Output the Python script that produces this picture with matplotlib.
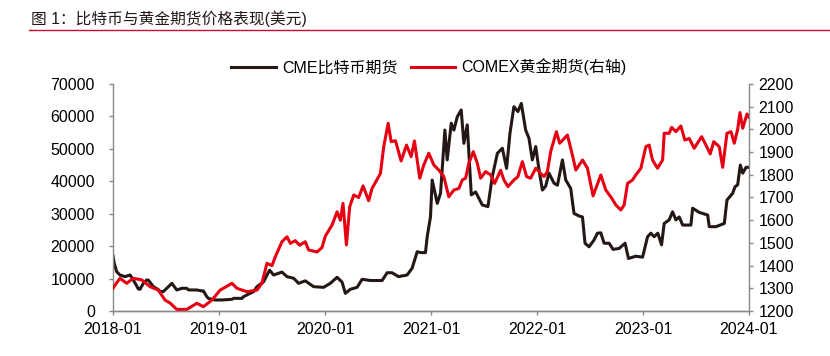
import numpy as np
import matplotlib
matplotlib.use('Agg')
import matplotlib.pyplot as plt
from matplotlib.lines import Line2D

plt.rcParams['font.family'] = ['Liberation Sans', 'Noto Sans CJK SC', 'DejaVu Sans']

# CME bitcoin futures (USD), x in decimal years
btc_t = [2018.000, 2018.012, 2018.035, 2018.050, 2018.066, 2018.113, 2018.161, 2018.192, 2018.239, 2018.255,
         2018.286, 2018.318, 2018.334, 2018.381, 2018.428, 2018.444, 2018.475, 2018.491, 2018.555, 2018.602,
         2018.649, 2018.696, 2018.712, 2018.791, 2018.838, 2018.853, 2018.885, 2018.900, 2018.933, 2018.964,
         2019.027, 2019.122, 2019.137, 2019.216, 2019.231, 2019.278, 2019.326, 2019.358, 2019.420, 2019.477,
         2019.515, 2019.594, 2019.641, 2019.704, 2019.751, 2019.814, 2019.893, 2019.987, 2020.050, 2020.114,
         2020.161, 2020.192, 2020.239, 2020.303, 2020.350, 2020.428, 2020.539, 2020.586, 2020.633, 2020.693,
         2020.775, 2020.822, 2020.870, 2020.901, 2020.948, 2020.964, 2020.995, 2021.011, 2021.027, 2021.059,
         2021.090, 2021.131, 2021.153, 2021.191, 2021.216, 2021.248, 2021.285, 2021.310, 2021.342, 2021.380,
         2021.421, 2021.484, 2021.537, 2021.578, 2021.626, 2021.673, 2021.713, 2021.745, 2021.782, 2021.820,
         2021.852, 2021.893, 2021.924, 2021.956, 2021.988, 2022.019, 2022.051, 2022.082, 2022.113, 2022.161,
         2022.193, 2022.240, 2022.271, 2022.318, 2022.349, 2022.397, 2022.429, 2022.453, 2022.491, 2022.538,
         2022.570, 2022.602, 2022.633, 2022.680, 2022.718, 2022.775, 2022.831, 2022.863, 2022.932, 2022.996,
         2023.043, 2023.074, 2023.105, 2023.140, 2023.175, 2023.200, 2023.247, 2023.279, 2023.310, 2023.342,
         2023.374, 2023.452, 2023.468, 2023.531, 2023.610, 2023.625, 2023.688, 2023.767, 2023.792, 2023.846,
         2023.868, 2023.893, 2023.918, 2023.941, 2023.972, 2024.000]
btc_v = [17000, 14700, 12100, 11600, 11100, 10600, 11100, 9560, 6800, 6700,
         8540, 9560, 9500, 7500, 6600, 5950, 6000, 6480, 8540, 6480,
         7000, 7000, 6500, 6480, 6200, 6200, 4400, 3900, 3600, 3400,
         3400, 3600, 3900, 3900, 4400, 5200, 5950, 7500, 9000, 12600,
         11100, 12000, 10600, 10100, 8540, 9300, 7500, 7300, 8540, 10400,
         8900, 5450, 6700, 7300, 9780, 9400, 9400, 11800, 11800, 10600,
         11100, 13200, 18300, 18000, 18000, 22900, 29000, 40400, 38000, 33200,
         36300, 55800, 46600, 57900, 55800, 59900, 62000, 51700, 57400, 35800,
         36700, 32700, 32200, 41400, 48600, 50200, 44000, 54800, 63000, 61500,
         64000, 55800, 53300, 46600, 50700, 43500, 37300, 38500, 42500, 39400,
         38800, 46600, 40400, 37800, 30100, 29300, 29000, 20900, 19800, 21900,
         24000, 24100, 20900, 20900, 19000, 19300, 20900, 16200, 16900, 16600,
         22900, 24000, 22900, 24000, 20400, 27000, 28100, 30600, 28100, 29000,
         26500, 26500, 31700, 30400, 29600, 26000, 26000, 27000, 34200, 36300,
         38300, 38900, 45000, 42500, 44300, 44300]

# COMEX gold futures (USD/oz), right axis
gold_t = [2018.000, 2018.028, 2018.066, 2018.129, 2018.192, 2018.271, 2018.350, 2018.428, 2018.491, 2018.539,
          2018.602, 2018.696, 2018.791, 2018.853, 2018.933, 2019.011, 2019.122, 2019.169, 2019.263, 2019.358,
          2019.405, 2019.452, 2019.500, 2019.531, 2019.594, 2019.641, 2019.673, 2019.720, 2019.760, 2019.814,
          2019.845, 2019.925, 2019.972, 2020.003, 2020.067, 2020.114, 2020.145, 2020.170, 2020.202, 2020.233,
          2020.271, 2020.318, 2020.359, 2020.412, 2020.444, 2020.523, 2020.554, 2020.596, 2020.624, 2020.665,
          2020.718, 2020.769, 2020.813, 2020.844, 2020.894, 2020.932, 2020.979, 2021.027, 2021.074, 2021.121,
          2021.168, 2021.216, 2021.263, 2021.295, 2021.326, 2021.357, 2021.399, 2021.437, 2021.468, 2021.515,
          2021.562, 2021.600, 2021.657, 2021.688, 2021.726, 2021.782, 2021.820, 2021.862, 2021.902, 2021.940,
          2021.988, 2022.035, 2022.066, 2022.098, 2022.129, 2022.183, 2022.214, 2022.243, 2022.287, 2022.334,
          2022.366, 2022.429, 2022.476, 2022.529, 2022.561, 2022.602, 2022.649, 2022.706, 2022.744, 2022.791,
          2022.822, 2022.854, 2022.901, 2022.932, 2022.980, 2023.027, 2023.058, 2023.090, 2023.137, 2023.185,
          2023.200, 2023.247, 2023.270, 2023.310, 2023.357, 2023.395, 2023.436, 2023.483, 2023.553, 2023.594,
          2023.634, 2023.667, 2023.719, 2023.752, 2023.792, 2023.830, 2023.861, 2023.893, 2023.915, 2023.941,
          2023.981, 2024.000]
gold_v = [1300, 1320, 1344, 1322, 1344, 1337, 1307, 1292, 1248, 1235,
          1207, 1207, 1234, 1219, 1248, 1292, 1322, 1300, 1285, 1292,
          1322, 1410, 1400, 1439, 1505, 1527, 1498, 1510, 1490, 1505,
          1469, 1460, 1480, 1530, 1579, 1637, 1600, 1674, 1491, 1659,
          1711, 1700, 1751, 1686, 1740, 1806, 1924, 2027, 1946, 1950,
          1861, 1931, 1880, 1949, 1785, 1843, 1895, 1843, 1821, 1792,
          1703, 1733, 1740, 1777, 1785, 1851, 1902, 1851, 1785, 1814,
          1800, 1762, 1820, 1777, 1748, 1777, 1792, 1858, 1792, 1785,
          1829, 1806, 1792, 1814, 1902, 1990, 1939, 1953, 1975, 1887,
          1821, 1865, 1829, 1707, 1748, 1799, 1733, 1696, 1667, 1645,
          1667, 1762, 1777, 1799, 1829, 1924, 1931, 1865, 1829, 1865,
          1983, 1983, 2009, 1990, 2015, 1953, 1960, 1917, 1968, 1931,
          1892, 1946, 1924, 1833, 1983, 1990, 1939, 2000, 2074, 2005,
          2068, 2054]

years = [2018, 2019, 2020, 2021, 2022, 2023, 2024]
year_labels = ['2018-01', '2019-01', '2020-01', '2021-01', '2022-01', '2023-01', '2024-01']

black = '#231815'
red = '#e60012'
grey = '#898989'

fig = plt.figure(figsize=(8.3, 3.56), dpi=100)
fig.text(31 / 830, 1 - 19 / 356, '图 1：比特币与黄金期货价格表现(美元)', fontsize=11.3,
         color='#231815', va='center', ha='left')
fig.add_artist(Line2D([29 / 830, 1.0], [1 - 29.5 / 356] * 2, color='#c8102e', lw=1.0))

ax = fig.add_axes([113 / 830, 1 - 311 / 356, 636 / 830, 227 / 356])
ax2 = ax.twinx()

l1, = ax.plot(btc_t, btc_v, color=black, lw=2.2, label='CME比特币期货')
l2, = ax2.plot(gold_t, gold_v, color=red, lw=2.2, label='COMEX黄金期货(右轴)')

ax.set_xlim(2018, 2024)
ax.set_ylim(0, 70000)
ax2.set_ylim(1200, 2200)
ax.set_yticks(np.arange(0, 70001, 10000))
ax2.set_yticks(np.arange(1200, 2201, 100))
ax.set_xticks(years)
ax.set_xticklabels(year_labels)

for a in (ax, ax2):
    for s in a.spines.values():
        s.set_color(grey)
        s.set_linewidth(1.0)
    a.spines['top'].set_visible(False)
    a.tick_params(labelsize=11.5, colors=grey, labelcolor='black', length=3, width=1)
ax2.spines['left'].set_visible(False)
ax.spines['right'].set_visible(False)
ax.tick_params(axis='y', pad=10)
ax2.tick_params(axis='y', pad=4)
ax.tick_params(axis='x', pad=5)

fig.legend([l1, l2], [l1.get_label(), l2.get_label()], loc='center',
           bbox_to_anchor=(429 / 830, 1 - 67 / 356), ncol=2, frameon=False,
           fontsize=11.5, handlelength=2.8, columnspacing=0.8, handletextpad=0.4)

fig.savefig('out.png', dpi=100)
